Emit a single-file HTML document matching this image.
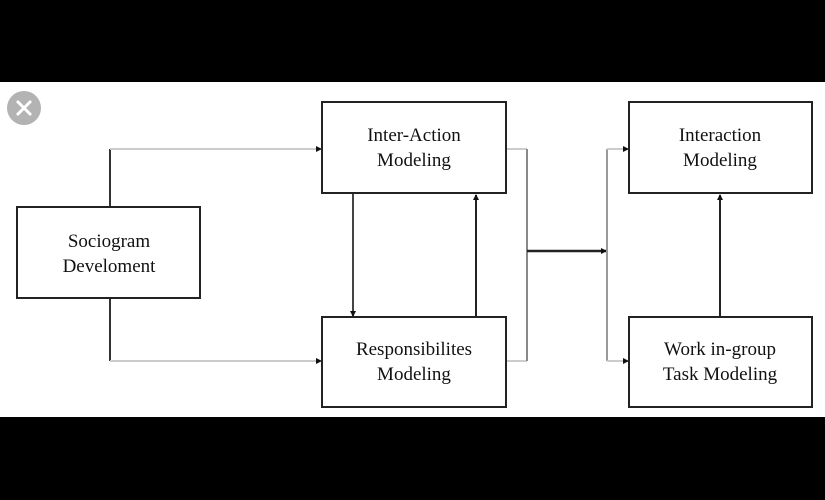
<!DOCTYPE html>
<html><head><meta charset="utf-8"><style>
html,body{margin:0;padding:0;background:#000;}
.wrap{position:relative;width:825px;height:500px;background:#000;overflow:hidden;}
svg{position:absolute;left:0;top:0;}
text{font-family:"Liberation Serif",serif;font-size:19px;fill:#111;}
</style></head><body><div class="wrap">
<svg width="825" height="500" viewBox="0 0 825 500">
<defs><marker id="a" markerWidth="6" markerHeight="6" refX="5" refY="3" orient="auto" markerUnits="userSpaceOnUse"><path d="M0,0 L6,3 L0,6 Z" fill="#111"/></marker></defs>
<rect x="0" y="82" width="825" height="335" fill="#fff"/>
<circle cx="24" cy="108" r="17" fill="#b3b3b3"/>
<path d="M17,101 L31,115 M31,101 L17,115" stroke="#fff" stroke-width="3"/>
<g fill="none" stroke-width="2">
<path d="M110,207 V149" stroke="#333"/>
<path d="M110,149 H321" stroke="#ccc" marker-end="url(#a)"/>
<path d="M110,298 V361" stroke="#333"/>
<path d="M110,361 H321" stroke="#ccc" marker-end="url(#a)"/>
<path d="M353,194 V316" stroke="#444" marker-end="url(#a)"/>
<path d="M476,317 V195" stroke="#222" marker-end="url(#a)"/>
<path d="M506,149 H527 M506,361 H527" stroke="#ccc"/>
<path d="M527,149 V361" stroke="#888"/>
<path d="M527,251 H606" stroke="#222" stroke-width="2.5" marker-end="url(#a)"/>
<path d="M607,149 V361" stroke="#999"/>
<path d="M607,149 H628" stroke="#ccc" marker-end="url(#a)"/>
<path d="M607,361 H628" stroke="#ccc" marker-end="url(#a)"/>
<path d="M720,317 V195" stroke="#222" marker-end="url(#a)"/>
</g>
<g fill="#fff" stroke="#222" stroke-width="2">
<rect x="17" y="207" width="183" height="91"/>
<rect x="322" y="102" width="184" height="91"/>
<rect x="322" y="317" width="184" height="90"/>
<rect x="629" y="102" width="183" height="91"/>
<rect x="629" y="317" width="183" height="90"/>
</g>
<g text-anchor="middle">
<text x="109" y="247">Sociogram</text><text x="109" y="272">Develoment</text>
<text x="414" y="141">Inter-Action</text><text x="414" y="166">Modeling</text>
<text x="414" y="355">Responsibilites</text><text x="414" y="380">Modeling</text>
<text x="720" y="141">Interaction</text><text x="720" y="166">Modeling</text>
<text x="720" y="355">Work in-group</text><text x="720" y="380">Task Modeling</text>
</g>
</svg></div></body></html>
